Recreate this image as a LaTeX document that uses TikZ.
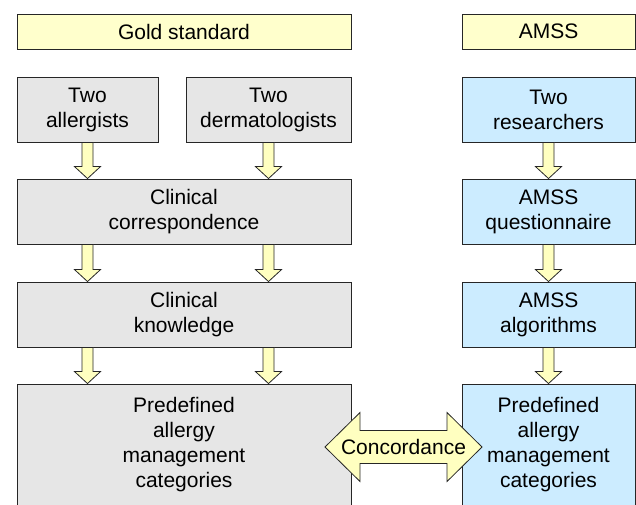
\documentclass[tikz,border=0pt]{standalone}
\usepackage{fontspec}
\setmainfont{Liberation Sans}
\usetikzlibrary{calc,positioning}

\definecolor{headyellow}{RGB}{255,255,204}
\definecolor{arrowyellow}{RGB}{255,255,192}
\definecolor{goldgray}{RGB}{230,230,230}
\definecolor{amssblue}{RGB}{204,236,255}

\tikzset{
  box/.style={draw=black!85,line width=0.9pt,align=center,inner sep=0pt,
    font=\fontsize{21}{25}\selectfont,minimum height=65pt},
  headbox/.style={box,fill=headyellow,minimum height=35pt},
  goldbox/.style={box,fill=goldgray},
  amssbox/.style={box,fill=amssblue},
  flow/.style={draw=black!85,line width=0.8pt,fill=arrowyellow,line join=miter}
}

% fat downward arrow from the first point to the second
\newcommand\flowarrow[2]{%
  \draw[flow] let \p1=(#1), \p2=(#2) in
    (\x1-5.5pt,\y1) -- (\x1+5.5pt,\y1) -- (\x1+5.5pt,\y2+12pt) -- (\x1+13pt,\y2+12pt)
    -- (\x1,\y2) -- (\x1-13pt,\y2+12pt) -- (\x1-5.5pt,\y2+12pt) -- cycle;}

\begin{document}
\begin{tikzpicture}[x=1pt,y=-1pt]
    \useasboundingbox (0,0) rectangle (636,504);

    \node[headbox,minimum width=334pt] (goldhead) at (184,31.5) {Gold standard};
    \node[headbox,minimum width=173pt] (amsshead) at (548.5,31.5) {AMSS};

    \node[goldbox,minimum width=141pt] (allergists) at (87.5,109.5) {Two\\allergists};
    \node[goldbox,minimum width=165pt] (derm) at (268.5,109.5) {Two\\dermatologists};
    \node[goldbox,minimum width=334pt] (corr) at (184,211.5) {Clinical\\correspondence};
    \node[goldbox,minimum width=334pt] (know) at (184,314.5) {Clinical\\knowledge};
    \node[goldbox,minimum width=334pt,minimum height=122pt] (goldcat) at (184,445)
        {Predefined\\allergy\\management\\categories};

    \node[amssbox,minimum width=173pt] (researchers) at (548.5,109.5) {Two\\researchers};
    \node[amssbox,minimum width=173pt] (quest) at (548.5,211.5) {AMSS\\questionnaire};
    \node[amssbox,minimum width=173pt] (algo) at (548.5,314.5) {AMSS\\algorithms};
    \node[amssbox,minimum width=173pt,minimum height=122pt] (amsscat) at (548.5,445)
        {Predefined\\allergy\\management\\categories};

    \foreach \col in {allergists,derm} {
        \flowarrow{\col.south}{\col.south |- corr.north}
        \flowarrow{\col.south |- corr.south}{\col.south |- know.north}
        \flowarrow{\col.south |- know.south}{\col.south |- goldcat.north}
    }
    \flowarrow{researchers.south}{quest.north}
    \flowarrow{quest.south}{algo.north}
    \flowarrow{algo.south}{amsscat.north}

    % concordance between the two results
    \coordinate (mid) at (403.5,447);
    \draw[flow] ($(mid)+(-78.5,0)$) -- ++(35,-34.5) -- ++(0,18) -- ++(87,0) -- ++(0,-18)
        -- ($(mid)+(78.5,0)$) -- ++(-35,34.5) -- ++(0,-18) -- ++(-87,0) -- ++(0,18) -- cycle;
    \node[font=\fontsize{21}{25}\selectfont,inner sep=0pt] (concord) at (mid) {Concordance};
\end{tikzpicture}
\end{document}
